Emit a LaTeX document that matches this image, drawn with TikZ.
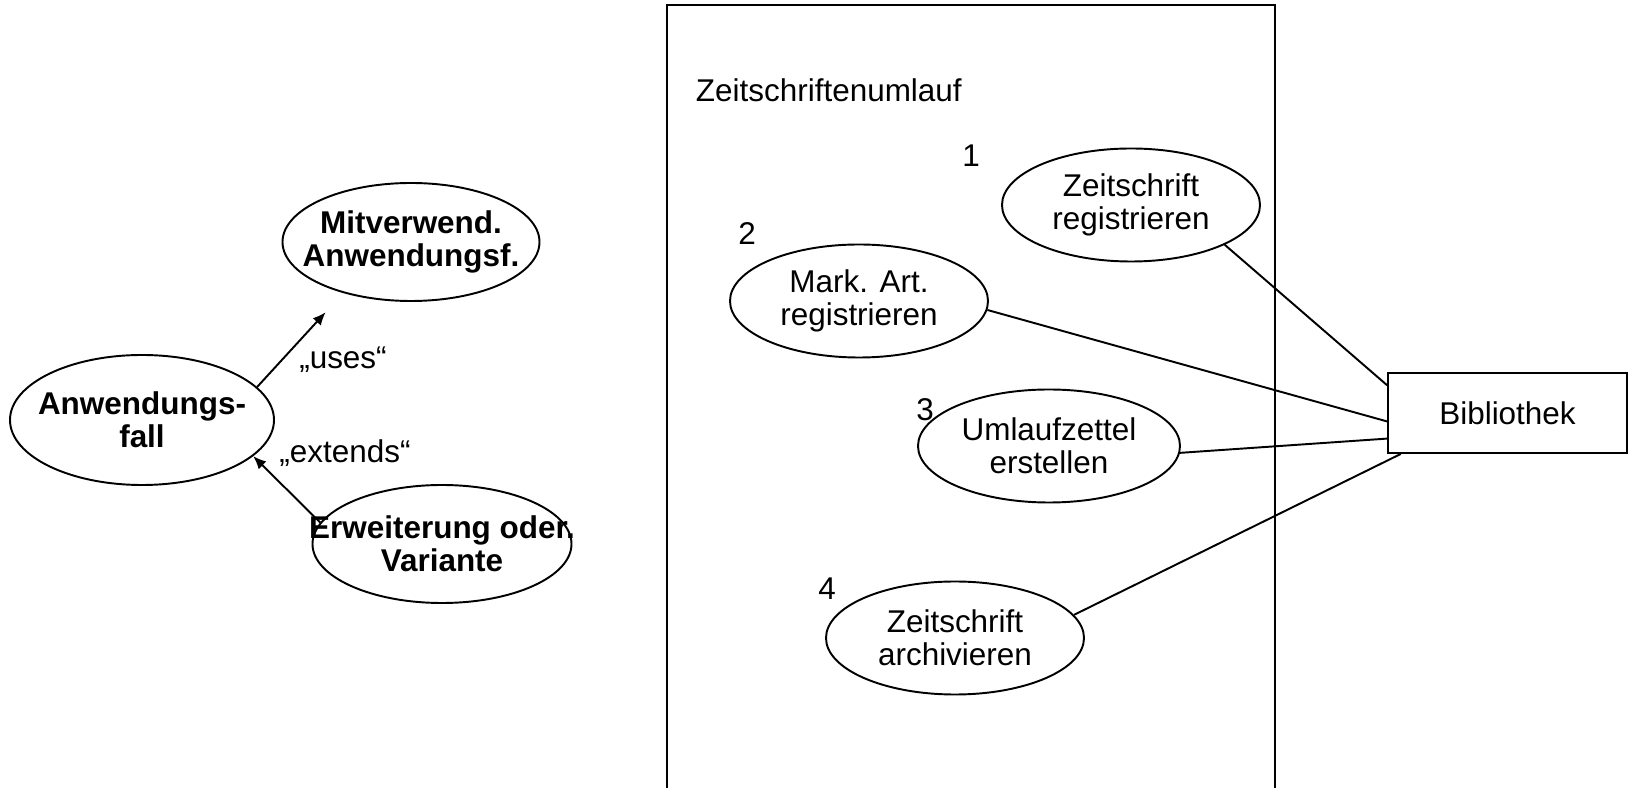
\documentclass[tikz,border=0pt]{standalone}
\usepackage{fontspec}
\setmainfont{Liberation Sans}
\usetikzlibrary{shapes.geometric,arrows.meta}

\newcommand{\ucfont}{\fontsize{17.9}{19}\selectfont}

\begin{document}
\begin{tikzpicture}[line width=1.1pt, font=\ucfont,
    usecase/.style={ellipse, draw, align=center, inner sep=0pt,
      minimum width=5.16cm, minimum height=2.26cm},
    % bold cases: text may run over the ellipse
    keycase/.style={usecase, font=\ucfont\bfseries, inner xsep=-1cm},
    actor/.style={rectangle, draw, minimum width=4.78cm, minimum height=1.6cm},
    rel/.style={-{Latex[length=0.26cm,width=0.22cm]}}]
    \useasboundingbox (0,0) rectangle (32.58,15.76);

    % Legend
    \node[keycase, minimum width=5.28cm, minimum height=2.6cm] (anw) at (2.84,7.36) {Anwendungs-\\fall};
    \node[keycase, minimum width=5.14cm, minimum height=2.36cm] (mit) at (8.22,10.92) {Mitverwend.\\Anwendungsf.};
    \node[keycase, minimum width=5.18cm, minimum height=2.36cm] (erw) at (8.84,4.88) {Erweiterung oder.\\Variante};

    \draw[rel, shorten >=0.52cm] (anw.16) -- (mit.217);
    \draw[rel] (erw.170) -- (anw.-18);
    \node (uses) at (6.86,8.56) {„uses“};
    \node (extends) at (6.9,6.7) {„extends“};

    % System boundary
    \draw (13.34,0) -- (13.34,15.66) -- (25.5,15.66) -- (25.5,0);
    \node[anchor=west, inner sep=0pt] (sys) at (13.9,13.96) {Zeitschriftenumlauf};

    % Use cases
    \node[usecase] (zreg) at (22.62,11.66) {Zeitschrift\\registrieren};
    \node[usecase] (mart) at (17.18,9.74) {Mark. Art.\\registrieren};
    \node[usecase, minimum width=5.24cm] (uml) at (20.98,6.84) {Umlaufzettel\\erstellen};
    \node[usecase] (zarch) at (19.1,3.0) {Zeitschrift\\archivieren};

    \node (n1) at (19.42,12.64) {1};
    \node (n2) at (14.94,11.08) {2};
    \node (n3) at (18.5,7.56) {3};
    \node (n4) at (16.54,3.98) {4};

    % Actor
    \node[actor] (bib) at (30.15,7.5) {Bibliothek};

    \draw (zreg.-23) -- (bib.167);
    \draw (mart.-4) -- (bib.184);
    \draw (uml.-3) -- (bib.192);
    \draw (zarch.11) -- (bib.201);
\end{tikzpicture}
\end{document}
